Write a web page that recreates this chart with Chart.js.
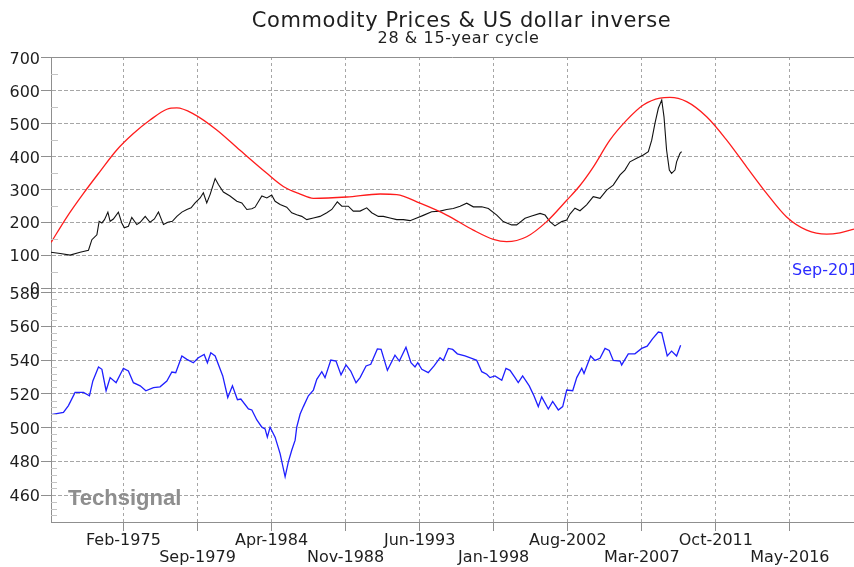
<!DOCTYPE html>
<html>
<head>
<meta charset="utf-8">
<title>Commodity Prices & US dollar inverse</title>
<script src="https://cdn.jsdelivr.net/npm/chart.js@4"></script>
<style>
  html, body { margin: 0; padding: 0; background: #fff; }
  #wrap { width: 854px; height: 567px; position: relative; }
</style>
</head>
<body>
<div id="wrap"><canvas id="chart"></canvas></div>
<script>
// x values are decimal years
const xMin = 1970.6;
const xMax = 2020.3;

const tickYears = [1975.083, 1979.667, 1984.25, 1988.833, 1993.417, 1998.0, 2002.583, 2007.167, 2011.75, 2016.333];
const tickLabels = ["Feb-1975", "Sep-1979", "Apr-1984", "Nov-1988", "Jun-1993", "Jan-1998", "Aug-2002", "Mar-2007", "Oct-2011", "May-2016"];

const upperTicks = [0, 100, 200, 300, 400, 500, 600, 700];
const lowerTicks = [460, 480, 500, 520, 540, 560, 580];

// 28 & 15-year cycle (red)
const cycleYears = [1970.61, 1971.58, 1972.61, 1973.64, 1974.67, 1975.70, 1976.73, 1977.77, 1978.39, 1979.41,
    1980.86, 1982.30, 1983.96, 1984.98, 1986.02, 1986.84, 1988.91, 1990.97, 1992.00, 1993.44,
    1995.09, 1996.74, 1997.98, 1998.80, 2000.04, 2001.28, 2002.52, 2003.34, 2004.16, 2005.19,
    2006.23, 2007.26, 2008.29, 2008.91, 2009.94, 2011.18, 2012.42, 2013.66, 2014.89, 2016.13,
    2017.37, 2018.61, 2019.43, 2020.30];
const cycleValues = [139, 216, 288, 355, 420, 470, 511, 544, 548, 530,
    481, 419, 349, 309, 286, 273, 277, 286, 284, 258,
    222, 176, 148, 141, 156, 202, 267, 312, 368, 450,
    511, 557, 578, 580, 567, 521, 450, 368, 288, 216,
    176, 164, 168, 179];

// commodity prices (black)
const commodityYears = [1970.59, 1971.17, 1971.78, 1972.40, 1972.92, 1973.13, 1973.44, 1973.58, 1973.75, 1973.91,
    1974.12, 1974.26, 1974.46, 1974.77, 1974.98, 1975.14, 1975.39, 1975.60, 1975.91, 1976.12,
    1976.43, 1976.73, 1977.00, 1977.25, 1977.56, 1977.83, 1978.11, 1978.39, 1978.70, 1979.01,
    1979.27, 1979.52, 1979.83, 1980.03, 1980.24, 1980.45, 1980.76, 1980.96, 1981.27, 1981.68,
    1982.10, 1982.41, 1982.72, 1983.03, 1983.23, 1983.65, 1983.96, 1984.26, 1984.47, 1984.78,
    1985.19, 1985.50, 1985.81, 1986.12, 1986.43, 1986.84, 1987.25, 1987.67, 1987.98, 1988.32,
    1988.60, 1989.00, 1989.31, 1989.73, 1990.14, 1990.45, 1990.86, 1991.17, 1991.58, 1992.00,
    1992.41, 1992.82, 1993.24, 1993.64, 1994.16, 1994.68, 1995.09, 1995.50, 1995.92, 1996.33,
    1996.74, 1997.26, 1997.67, 1998.19, 1998.59, 1999.11, 1999.42, 1999.94, 2000.35, 2000.87,
    2001.18, 2001.48, 2001.79, 2002.21, 2002.52, 2002.72, 2003.03, 2003.34, 2003.75, 2004.16,
    2004.58, 2004.99, 2005.40, 2005.82, 2006.12, 2006.43, 2006.85, 2007.26, 2007.57, 2007.78,
    2007.98, 2008.19, 2008.40, 2008.54, 2008.70, 2008.87, 2009.01, 2009.22, 2009.32, 2009.53,
    2009.63];
const commodityValues = [109, 105, 100, 109, 115, 147, 162, 203, 198, 208,
    231, 203, 210, 231, 198, 183, 188, 215, 193, 200,
    218, 200, 210, 231, 193, 200, 203, 218, 231, 239,
    244, 259, 274, 290, 259, 285, 333, 315, 292, 280,
    264, 259, 239, 241, 246, 280, 274, 283, 264, 254,
    246, 229, 223, 218, 208, 213, 218, 229, 239, 262,
    249, 249, 234, 234, 244, 229, 218, 218, 213, 208,
    208, 205, 213, 221, 232, 234, 239, 242, 249, 258,
    247, 247, 242, 222, 202, 192, 192, 212, 219, 227,
    222, 202, 189, 202, 207, 225, 243, 235, 253, 278,
    273, 298, 313, 344, 359, 384, 395, 405, 415, 450,
    501, 547, 572, 521, 420, 359, 349, 359, 384, 410,
    415];

// US dollar inverse (blue)
const dollarYears = [1970.59, 1971.37, 1971.68, 1972.09, 1972.61, 1972.98, 1973.19, 1973.54, 1973.75, 1974.01,
    1974.26, 1974.63, 1975.08, 1975.39, 1975.70, 1976.12, 1976.47, 1976.94, 1977.35, 1977.77,
    1978.08, 1978.32, 1978.70, 1979.01, 1979.41, 1979.72, 1980.08, 1980.28, 1980.49, 1980.76,
    1981.23, 1981.54, 1981.83, 1982.14, 1982.35, 1982.82, 1983.03, 1983.34, 1983.65, 1983.85,
    1983.99, 1984.16, 1984.47, 1984.78, 1985.09, 1985.29, 1985.50, 1985.71, 1985.81, 1986.02,
    1986.22, 1986.53, 1986.84, 1987.05, 1987.36, 1987.56, 1987.92, 1988.24, 1988.55, 1988.86,
    1989.15, 1989.48, 1989.73, 1990.10, 1990.39, 1990.80, 1991.03, 1991.42, 1991.89, 1992.16,
    1992.57, 1992.88, 1993.13, 1993.30, 1993.55, 1993.95, 1994.31, 1994.68, 1994.88, 1995.19,
    1995.46, 1995.75, 1996.22, 1996.64, 1996.95, 1997.26, 1997.57, 1997.77, 1998.08, 1998.50,
    1998.76, 1999.01, 1999.32, 1999.52, 1999.79, 2000.20, 2000.49, 2000.76, 2000.97, 2001.38,
    2001.65, 2002.00, 2002.27, 2002.52, 2002.89, 2003.14, 2003.45, 2003.59, 2004.00, 2004.27,
    2004.58, 2004.89, 2005.15, 2005.40, 2005.82, 2005.92, 2006.33, 2006.74, 2007.16, 2007.50,
    2007.84, 2008.19, 2008.40, 2008.74, 2009.01, 2009.32, 2009.57];
const dollarValues = [507.6, 509, 513, 520.8, 520.8, 518.8, 527.6, 535.9, 534.5, 521.8,
    529.6, 526.6, 535.1, 533.5, 526.6, 524.7, 521.8, 523.7, 524.1, 527.6,
    532.9, 532.5, 542.4, 540.4, 538.4, 541.4, 543.3, 538.4, 544.3, 542.4,
    530.6, 517.8, 524.7, 516.5, 516.9, 511, 510.4, 504.5, 500.2, 499.2,
    494.3, 500.2, 494.3, 484.5, 470.8, 479.6, 486.5, 492.5, 500.2, 508,
    512.4, 518.8, 522.2, 528.6, 533.1, 529.6, 540, 539.4, 531.2, 537.1,
    533.5, 526.6, 529.6, 536.5, 537.5, 546.6, 546.3, 533.9, 542.9, 539.4,
    547.6, 538.4, 535.9, 538.4, 534.5, 532.5, 536.5, 541.4, 539.8, 546.9,
    546.3, 543.7, 542.4, 541, 539.8, 533.1, 531.6, 529.6, 530.6, 528,
    535.1, 533.9, 529.6, 526.6, 530.6, 524.7, 518.8, 512.4, 518.2, 511,
    515.5, 510.4, 512.4, 522.2, 521.8, 529.6, 535.1, 532, 542.4, 539.8,
    541, 546.9, 545.7, 539.8, 539.4, 537.1, 543.7, 543.7, 546.9, 548.2,
    552.7, 556.6, 556.1, 542.4, 545.3, 542.4, 548.8];

const TITLE = "Commodity Prices & US dollar inverse";
const SUBTITLE = "28 & 15-year cycle";
const LAST_DATE = "Sep-2010";
const WATERMARK = "Techsignal";

const FONT = "'DejaVu Sans', Verdana, sans-serif";
const GRID = "#a6a6a6";
const AXIS = "#8f8f8f";
const TEXT = "#1e1e1e";

function toPoints(xs, ys) {
    return xs.map((x, i) => ({ x: x, y: ys[i] }));
}

// titre, filigrane, petites graduations
const decor = {
    id: "decor",
    beforeDatasetsDraw(c) {
        const ctx = c.ctx;
        ctx.save();
        ctx.fillStyle = "#8e8e8e";
        ctx.font = "bold 22px 'Liberation Sans', Arial, sans-serif";
        ctx.textAlign = "left";
        ctx.textBaseline = "alphabetic";
        ctx.fillText(WATERMARK, 68, 505);
        ctx.restore();
    },
    afterDraw(c) {
        const { ctx, chartArea: a, scales } = c;
        ctx.save();
        ctx.strokeStyle = AXIS;
        ctx.lineWidth = 1;
        ctx.beginPath();
        ctx.moveTo(a.left, Math.round(a.top) + 0.5);
        ctx.lineTo(a.right, Math.round(a.top) + 0.5);
        ctx.stroke();

        // minor ticks inside the y axis
        ctx.strokeStyle = "#c4c4c4";
        ctx.beginPath();
        for (let v = 50; v < 700; v += 100) {
            const y = Math.round(scales.yUp.getPixelForValue(v)) + 0.5;
            ctx.moveTo(a.left, y);
            ctx.lineTo(a.left + 7, y);
        }
        for (let v = 448; v <= 580; v += 4) {
            if (v % 20 === 0) continue;
            const y = Math.round(scales.yLow.getPixelForValue(v)) + 0.5;
            ctx.moveTo(a.left, y);
            ctx.lineTo(a.left + 6, y);
        }
        ctx.stroke();

        ctx.fillStyle = TEXT;
        ctx.textAlign = "center";
        ctx.textBaseline = "alphabetic";
        ctx.font = "21px " + FONT;
        ctx.letterSpacing = "0.6px";
        ctx.fillText(TITLE, 461.5, 27);
        ctx.font = "16px " + FONT;
        ctx.letterSpacing = "0.6px";
        ctx.fillText(SUBTITLE, 458.5, 43);

        ctx.letterSpacing = "0px";
        ctx.fillStyle = "#2b2bff";
        ctx.textAlign = "left";
        ctx.fillText(LAST_DATE, 792, 275);
        ctx.restore();
    }
};

const yCommon = {
    type: "linear",
    position: "left",
    stack: "panels",
    afterFit: (s) => { s.width = 51; },
    ticks: { autoSkip: false, color: TEXT, padding: 1, labelOffset: 2, font: { family: FONT, size: 16 } },
    grid: { color: GRID, tickColor: AXIS, tickLength: 10, tickBorderDash: [] },
    border: { color: AXIS, dash: [4, 2] }
};

new Chart(document.getElementById("chart"), {
    type: "line",
    data: {
        datasets: [
            {
                label: "Cycle",
                data: toPoints(cycleYears, cycleValues),
                yAxisID: "yUp",
                borderColor: "#ff1c1c",
                borderWidth: 1.3,
                cubicInterpolationMode: "monotone",
                pointRadius: 0
            },
            {
                label: "Commodity Prices",
                data: toPoints(commodityYears, commodityValues),
                yAxisID: "yUp",
                borderColor: "#111111",
                borderWidth: 1.1,
                tension: 0,
                pointRadius: 0
            },
            {
                label: "US dollar inverse",
                data: toPoints(dollarYears, dollarValues),
                yAxisID: "yLow",
                borderColor: "#1f1fff",
                borderWidth: 1.3,
                tension: 0,
                pointRadius: 0
            }
        ]
    },
    options: {
        responsive: true,
        maintainAspectRatio: false,
        animation: false,
        devicePixelRatio: 1,
        layout: { padding: { top: 57, left: 0, right: 0, bottom: 0 } },
        plugins: { legend: { display: false }, tooltip: { enabled: false } },
        scales: {
            x: {
                type: "linear",
                min: xMin,
                max: xMax,
                afterBuildTicks: (s) => { s.ticks = tickYears.map((v) => ({ value: v })); },
                afterFit: (s) => { s.height = 45; },
                ticks: {
                    autoSkip: false,
                    maxRotation: 0,
                    minRotation: 0,
                    padding: 2,
                    color: TEXT,
                    font: { family: FONT, size: 16, lineHeight: 1.04 },
                    callback: (v, i) => (i % 2 ? ["", tickLabels[i]] : [tickLabels[i], ""])
                },
                grid: { color: GRID, tickColor: AXIS, tickLength: 9, tickBorderDash: [] },
                border: { color: AXIS, dash: [3, 3] }
            },
            yLow: {
                ...yCommon,
                stackWeight: 234,
                min: 444,
                max: 582.7,
                afterBuildTicks: (s) => { s.ticks = lowerTicks.map((v) => ({ value: v })); }
            },
            yUp: {
                ...yCommon,
                stackWeight: 231,
                min: 0,
                max: 703,
                afterBuildTicks: (s) => { s.ticks = upperTicks.map((v) => ({ value: v })); }
            }
        }
    },
    plugins: [decor]
});
</script>
</body>
</html>
